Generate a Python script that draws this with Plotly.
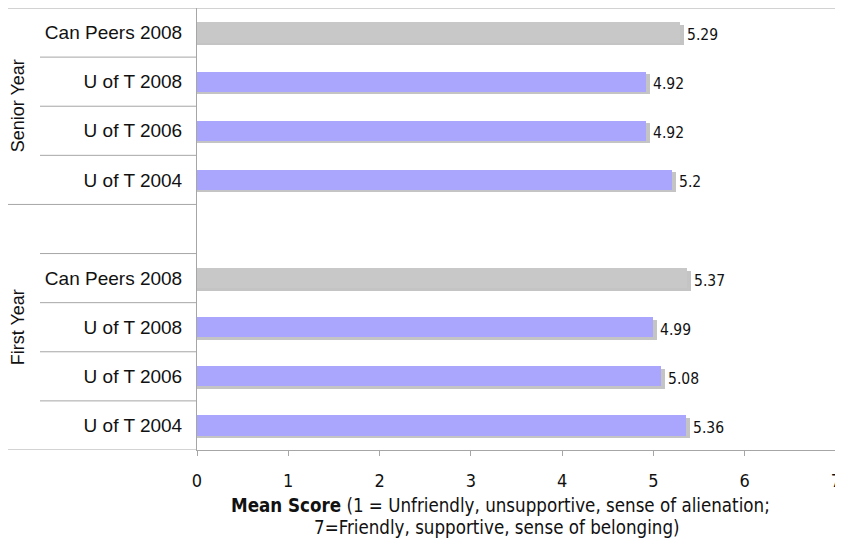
import plotly.graph_objects as go

categories = ["Can Peers 2008", "U of T 2008", "U of T 2006", "U of T 2004", "",
              "Can Peers 2008", "U of T 2008", "U of T 2006", "U of T 2004"]
values = [5.29, 4.92, 4.92, 5.2, None, 5.37, 4.99, 5.08, 5.36]
value_labels = ["5.29", "4.92", "4.92", "5.2", "", "5.37", "4.99", "5.08", "5.36"]
groups = ["Senior Year", "First Year"]
x_ticks = [0, 1, 2, 3, 4, 5, 6, 7]
x_title_1 = "<b>Mean Score</b> (1 = Unfriendly, unsupportive, sense of alienation;"
x_title_2 = "7=Friendly, supportive, sense of belonging)"

GRAY = "#c8c8c8"
PURPLE = "#aba6fd"
SHADOW = "#c4c4c4"
LINE = "#a6a6a6"
COND = "DejaVu Sans Condensed, Liberation Sans"

pos = list(range(len(categories)))
bar_colors = [GRAY if c.startswith("Can") else PURPLE for c in categories]
W = 0.41

fig = go.Figure()
# shadow
fig.add_trace(go.Bar(
    y=pos, x=[v + 0.045 if v is not None else None for v in values],
    orientation="h", width=W, offset=-W / 2 + 0.05,
    marker=dict(color=SHADOW, line=dict(width=0)),
    text=value_labels, textposition="outside", cliponaxis=False,
    textfont=dict(family=COND, size=15.5, color="#111111"),
    hoverinfo="skip", showlegend=False))
# main bars
fig.add_trace(go.Bar(
    y=pos, x=values, orientation="h", width=W, offset=-W / 2,
    marker=dict(color=bar_colors, line=dict(width=0)),
    showlegend=False))

shapes = []
x_full = -200 / 639
x_part = -157 / 639
for b in [0.5, 1.5, 2.5, 4.5, 5.5, 6.5, 7.5]:
    shapes.append(dict(type="line", xref="paper", yref="y", x0=x_part, x1=0,
                       y0=b, y1=b, line=dict(color=LINE, width=1)))
shapes.append(dict(type="line", xref="paper", yref="y", x0=x_full, x1=0,
                   y0=3.5, y1=3.5, line=dict(color=LINE, width=1)))
shapes.append(dict(type="line", xref="paper", yref="y", x0=x_full, x1=0,
                   y0=8.5, y1=8.5, line=dict(color=LINE, width=1)))
shapes.append(dict(type="line", xref="paper", yref="paper", x0=x_full, x1=1,
                   y0=1, y1=1, line=dict(color=LINE, width=1)))
shapes.append(dict(type="line", xref="paper", yref="paper", x0=1, x1=1,
                   y0=0, y1=1, line=dict(color=LINE, width=1)))

annotations = [
    dict(text=groups[0], xref="paper", yref="y", x=-179 / 639, y=1.5,
         textangle=-90, showarrow=False, xanchor="center", yanchor="middle",
         font=dict(family="Liberation Sans", size=18, color="#111111")),
    dict(text=groups[1], xref="paper", yref="y", x=-179 / 639, y=6.0,
         textangle=-90, showarrow=False, xanchor="center", yanchor="middle",
         font=dict(family="Liberation Sans", size=18, color="#111111")),
    dict(text=x_title_1, xref="paper", yref="paper", x=(500 - 197) / 639,
         y=(450 - 505) / 442, xanchor="center", yanchor="middle", showarrow=False,
         font=dict(family=COND, size=18.6, color="#111111")),
    dict(text=x_title_2, xref="paper", yref="paper", x=(497 - 197) / 639,
         y=(450 - 527) / 442, xanchor="center", yanchor="middle", showarrow=False,
         font=dict(family=COND, size=18.6, color="#111111")),
]

fig.update_layout(
    width=843, height=532,
    margin=dict(l=189, r=15, t=0, b=90, autoexpand=False),
    paper_bgcolor="white", plot_bgcolor="white",
    bargap=0, barmode="overlay",
    shapes=shapes, annotations=annotations,
    xaxis=dict(range=[0, 7.0001], tickvals=x_ticks, showgrid=False, zeroline=False,
               automargin=False, ticklabeloverflow="allow",
               showline=True, linecolor=LINE, linewidth=1,
               ticks="outside", ticklen=5, tickcolor=LINE, ticklabelstandoff=9,
               tickfont=dict(family=COND, size=18, color="#111111")),
    yaxis=dict(range=[8.5, -0.5], tickvals=pos, ticktext=categories,
               automargin=False,
               showgrid=False, zeroline=False, showline=True, linecolor=LINE,
               linewidth=1, ticks="", ticklabelstandoff=10,
               tickfont=dict(family="Liberation Sans", size=19, color="#111111")),
)

fig.write_html("out.html")
